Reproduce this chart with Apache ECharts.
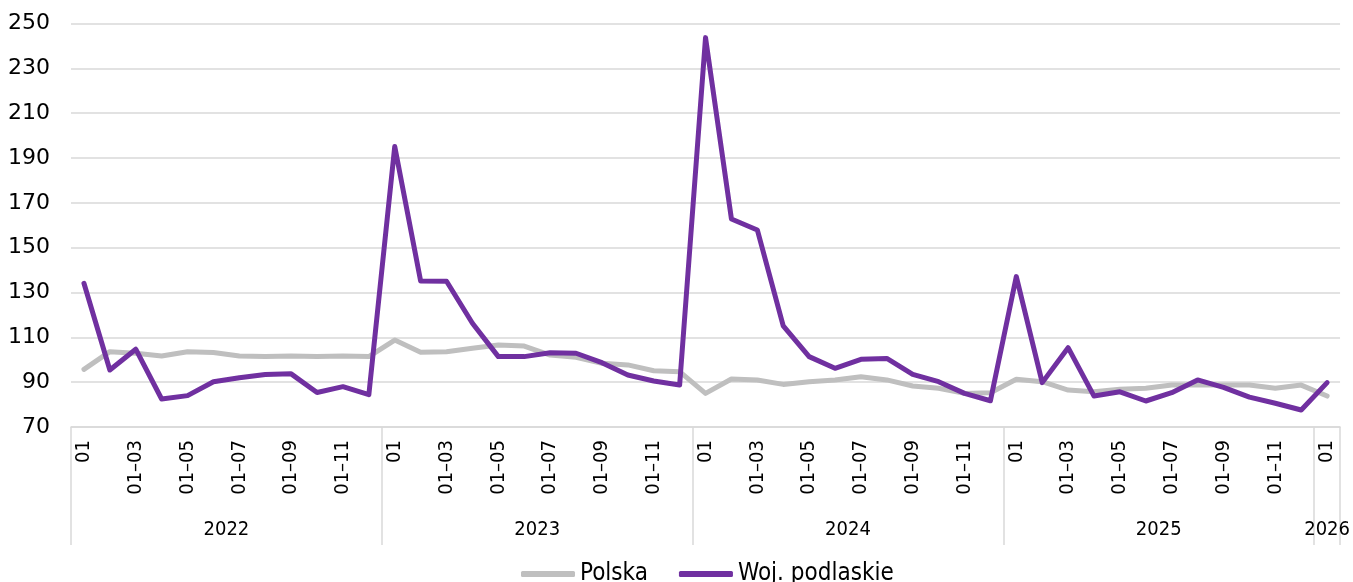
<!DOCTYPE html>
<html>
<head>
<meta charset="utf-8">
<script src="https://cdn.jsdelivr.net/npm/echarts@6/dist/echarts.min.js"></script>
<style>
  html, body { margin: 0; padding: 0; background: #fff; }
  #chart { width: 1353px; height: 582px; }
</style>
</head>
<body>
<div id="chart"></div>
<script>
// months 2022-01 .. 2026-01
const monthLabels = [];
for (let y = 0; y < 4; y++) {
  for (let m = 1; m <= 12; m++) {
    monthLabels.push(m === 1 ? '01' : '01–' + String(m).padStart(2, '0'));
  }
}
monthLabels.push('01');

const years = ['2022', '2023', '2024', '2025', '2026'];
const yearCenters = [6, 18, 30, 42, 48.5];
const yearBounds = [0, 12, 24, 36, 48, 49];

const polska = [
  95.7, 103.6, 102.9, 101.7, 103.6, 103.2, 101.7, 101.4, 101.7, 101.4, 101.7, 101.4,
  108.8, 103.3, 103.6, 105.1, 106.6, 106.1, 102.1, 101.1, 98.4, 97.7, 95.1, 94.7,
  85.0, 91.4, 91.0, 89.0, 90.2, 91.0, 92.4, 91.0, 88.3, 87.3, 85.0, 85.3,
  91.3, 90.2, 86.5, 85.7, 86.8, 87.3, 88.7, 88.7, 88.7, 88.7, 87.3, 88.7,
  83.8
];

const podlaskie = [
  134.1, 95.4, 104.7, 82.5, 84.0, 90.2, 92.0, 93.4, 93.7, 85.4, 88.0, 84.4,
  195.1, 135.1, 135.0, 116.3, 101.4, 101.4, 103.1, 102.9, 98.7, 93.2, 90.5, 88.7,
  243.7, 162.8, 157.9, 115.1, 101.4, 96.2, 100.2, 100.6, 93.5, 90.2, 85.0, 81.7,
  137.1, 89.8, 105.4, 83.8, 85.7, 81.6, 85.3, 91.0, 87.7, 83.3, 80.6, 77.6,
  89.8
];

const FONT = "'DejaVu Sans Condensed', 'DejaVu Sans', sans-serif";
const GRID_COLOR = '#d9d9d9';

const chart = echarts.init(document.getElementById('chart'));

chart.setOption({
  animation: false,
  textStyle: { fontFamily: FONT },
  grid: { left: 71, right: 11, top: 23.5, bottom: 155 },
  legend: {
    top: 557,
    left: 516,
    itemGap: 31,
    itemWidth: 54,
    itemHeight: 6,
    icon: 'roundRect',
    textStyle: { fontFamily: FONT, fontSize: 24, color: '#000' },
    data: ['Polska', 'Woj. podlaskie']
  },
  xAxis: [
    {
      type: 'category',
      data: monthLabels,
      boundaryGap: true,
      axisLine: { lineStyle: { color: GRID_COLOR, width: 1.5 } },
      axisTick: { interval: 0, length: 73, lineStyle: { color: GRID_COLOR, width: 1.5 } },
      axisLabel: {
        interval: 1,
        rotate: 90,
        margin: 13,
        fontSize: 20,
        color: '#000',
        fontFamily: FONT
      }
    },
    {
      type: 'value',
      min: 0,
      max: 49,
      position: 'bottom',
      axisLine: { show: false },
      splitLine: { show: false },
      axisTick: {
        show: true,
        customValues: yearBounds,
        length: 118,
        lineStyle: { color: GRID_COLOR, width: 1.5 }
      },
      axisLabel: {
        customValues: yearCenters,
        margin: 93,
        fontSize: 20,
        color: '#000',
        fontFamily: FONT,
        formatter: v => years[yearCenters.indexOf(v)] || ''
      }
    }
  ],
  yAxis: {
    type: 'value',
    min: 70,
    max: 250,
    interval: 20,
    axisLine: { show: false },
    axisTick: { show: false },
    splitLine: { lineStyle: { color: GRID_COLOR, width: 1.5 } },
    axisLabel: { fontSize: 22, color: '#000', margin: 21, fontFamily: "'DejaVu Sans', sans-serif" }
  },
  series: [
    {
      name: 'Polska',
      type: 'line',
      xAxisIndex: 0,
      data: polska,
      symbol: 'none',
      lineStyle: { color: '#bfbfbf', width: 5, cap: 'round', join: 'round' },
      itemStyle: { color: '#bfbfbf' }
    },
    {
      name: 'Woj. podlaskie',
      type: 'line',
      xAxisIndex: 0,
      data: podlaskie,
      symbol: 'none',
      lineStyle: { color: '#7030a0', width: 5, cap: 'round', join: 'round' },
      itemStyle: { color: '#7030a0' }
    }
  ]
});
</script>
</body>
</html>
